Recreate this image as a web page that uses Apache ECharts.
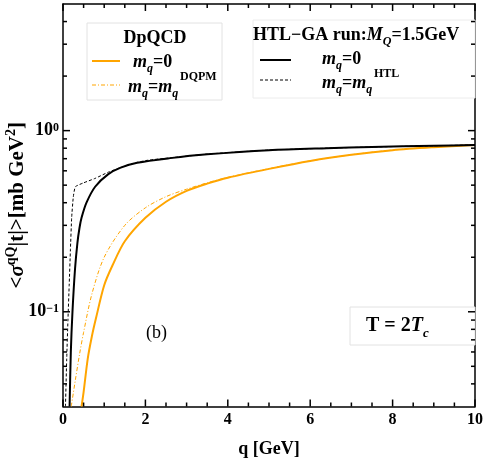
<!DOCTYPE html>
<html>
<head>
<meta charset="utf-8">
<script src="https://cdn.jsdelivr.net/npm/echarts@6/dist/echarts.min.js"></script>
<style>
  html, body { margin: 0; padding: 0; background: #fff; }
  #chart { width: 485px; height: 460px; }
</style>
</head>
<body>
<div id="chart"></div>
<script>
  // DpQCD, m_q = 0 (orange solid)
  const qDpSolid = [0.45, 0.5, 0.6, 0.7, 0.8, 1.0, 1.2, 1.5, 2.0, 2.5, 3.0, 3.5, 4.0, 5.0, 6.0, 7.0, 8.0, 9.0, 10];
  const vDpSolid = [0.03, 0.036, 0.055, 0.073, 0.092, 0.14, 0.18, 0.245, 0.33, 0.405, 0.465, 0.51, 0.55, 0.615, 0.68, 0.735, 0.78, 0.81, 0.834];
  // DpQCD, m_q = m_q^DQPM (orange dash-dot)
  const qDpMass = [0.2, 0.3, 0.4, 0.5, 0.7, 1.0, 1.5, 2.0, 2.5, 3.0, 3.5, 4.0, 5.0, 6.0, 7.0, 8.0, 9.0, 10];
  const vDpMass = [0.03, 0.042, 0.058, 0.077, 0.125, 0.2, 0.3, 0.375, 0.432, 0.475, 0.515, 0.552, 0.617, 0.681, 0.736, 0.781, 0.811, 0.834];
  // HTL-GA, m_q = 0 (black solid)
  const qHtlSolid = [0.16, 0.19, 0.23, 0.29, 0.35, 0.4, 0.45, 0.57, 0.78, 1.1, 1.4, 1.8, 2.6, 3.5, 5.0, 6.4, 7.5, 9.0, 10];
  const vHtlSolid = [0.03, 0.06, 0.1, 0.17, 0.24, 0.29, 0.33, 0.4, 0.49, 0.575, 0.625, 0.665, 0.705, 0.74, 0.78, 0.8, 0.812, 0.825, 0.834];
  // HTL-GA, m_q = m_q^HTL (black dashed)
  const qHtlMass = [0.06, 0.09, 0.12, 0.15, 0.18, 0.21, 0.25, 0.3, 0.5, 0.78, 1.1, 1.42, 1.8, 2.07, 2.6, 3.5, 5.0, 6.4, 7.5, 9.0, 10];
  const vHtlMass = [0.03, 0.055, 0.09, 0.14, 0.22, 0.33, 0.43, 0.49, 0.515, 0.545, 0.59, 0.628, 0.668, 0.687, 0.707, 0.742, 0.781, 0.8, 0.812, 0.825, 0.834];

  // tick positions (major ones carry labels)
  const xMajorTicks = [0, 2, 4, 6, 8, 10];
  const xMinorTicks = [0.5, 1, 1.5, 2.5, 3, 3.5, 4.5, 5, 5.5, 6.5, 7, 7.5, 8.5, 9, 9.5];
  const yMajorTicks = [0.1, 1];
  const yMinorTicks = [0.04, 0.05, 0.06, 0.07, 0.08, 0.09, 0.2, 0.3, 0.4, 0.5, 0.6, 0.7, 0.8, 0.9, 2, 3, 4];

  const F = 'Liberation Serif';
  const ORANGE = '#ffa500';
  const xMin = 0, xMax = 10, yMin = 0.03, yMax = 5;

  const pairs = (qs, vs) => qs.map((q, i) => [q, vs[i]]);
  const lg = v => Math.log10(v);

  const rich = {
    b: { fontFamily: F, fontWeight: 'bold', fontSize: 18, lineHeight: 26, color: '#000' },
    i: { fontFamily: F, fontWeight: 'bold', fontStyle: 'italic', fontSize: 18, lineHeight: 26, color: '#000' },
    sub: { fontFamily: F, fontWeight: 'bold', fontStyle: 'italic', fontSize: 12, lineHeight: 15, verticalAlign: 'bottom', color: '#000' },
    b20: { fontFamily: F, fontWeight: 'bold', fontSize: 20, lineHeight: 28, color: '#000' },
    i20: { fontFamily: F, fontWeight: 'bold', fontStyle: 'italic', fontSize: 20, lineHeight: 28, color: '#000' },
    sub20: { fontFamily: F, fontWeight: 'bold', fontStyle: 'italic', fontSize: 13, lineHeight: 16, verticalAlign: 'bottom', color: '#000' }
  };

  const chart = echarts.init(document.getElementById('chart'));

  const text = (x, y, t, extra) => ({
    type: 'text', x: x, y: y, z: 10,
    style: Object.assign({ text: t, rich: rich, textVerticalAlign: 'middle', verticalAlign: 'middle', fill: '#000', font: 'bold 18px ' + F }, extra || {})
  });
  const seg = (x1, x2, y, color, width, dash) => ({
    type: 'line', z: 10,
    shape: { x1: x1, y1: y, x2: x2, y2: y },
    style: { stroke: color, lineWidth: width, lineDash: dash || null }
  });
  const tickLine = (a, b) => ({
    type: 'line', z: 11, silent: true,
    shape: { x1: a[0], y1: a[1], x2: b[0], y2: b[1] },
    style: { stroke: '#000', lineWidth: 1.5 }
  });

  const hideLabel = { show: false };
  const noSplit = { show: false };
  const noTick = { show: false };
  const axisLineStyle = { show: true, onZero: false, lineStyle: { color: '#000', width: 1.5 } };

  const decorations = [
    // DpQCD legend box
    { type: 'rect', z: 9, shape: { x: 87, y: 23, width: 135, height: 77 }, style: { fill: '#fff', stroke: '#e2e2e2', lineWidth: 1 } },
    text(155, 38, 'DpQCD', { textAlign: 'center', align: 'center', font: 'bold 18px ' + F }),
    seg(92, 120, 61, ORANGE, 2),
    text(133, 62, '{i|m}{sub|q}{b|=0}'),
    seg(92, 120, 85, ORANGE, 1, [4, 2, 1, 2]),
    text(128, 87, '{i|m}{sub|q}{b|=}{i|m}{sub|q}'),
    text(180, 77, 'DQPM', { font: 'bold 12px ' + F }),
    // HTL-GA legend box
    { type: 'rect', z: 9, shape: { x: 253, y: 20, width: 222, height: 78 }, style: { fill: '#fff', stroke: '#ececec', lineWidth: 1 } },
    text(253, 35, '{b|HTL−GA run:}{i|M}{sub|Q}{b|=1.5GeV}'),
    seg(260, 291, 60, '#000', 2),
    text(322, 59, '{i|m}{sub|q}{b|=0}'),
    seg(260, 291, 80, '#000', 1, [3, 2]),
    text(322, 83, '{i|m}{sub|q}{b|=}{i|m}{sub|q}'),
    text(374, 74, 'HTL', { font: 'bold 12px ' + F }),
    // panel label
    text(146, 333, '(b)', { font: '18px ' + F }),
    // temperature box
    { type: 'rect', z: 9, shape: { x: 350, y: 307, width: 125, height: 38 }, style: { fill: '#fff', stroke: '#e2e2e2', lineWidth: 1 } },
    text(366, 326, '{b20|T = 2}{i20|T}{sub20|c}')
  ];

  chart.setOption({
    animation: false,
    grid: { left: 63, right: 10, top: 4, bottom: 53.5, outerBoundsMode: 'none' },
    xAxis: [{
      type: 'value', min: xMin, max: xMax, interval: 2,
      name: 'q [GeV]', nameLocation: 'middle', nameGap: 34,
      nameTextStyle: { fontFamily: F, fontWeight: 'bold', fontSize: 18, color: '#000' },
      axisLine: axisLineStyle,
      axisTick: noTick,
      axisLabel: { fontFamily: F, fontWeight: 'bold', fontSize: 16, color: '#000', margin: 5 },
      splitLine: noSplit
    }, {
      type: 'value', min: xMin, max: xMax, interval: 2, position: 'top',
      axisLine: axisLineStyle, axisTick: noTick, axisLabel: hideLabel, splitLine: noSplit
    }],
    yAxis: [{
      type: 'log', logBase: 10, min: yMin, max: yMax,
      name: '<{si|σ}{sp|qQ}|t|>[mb GeV{sp|2}]', nameLocation: 'middle', nameGap: 31, nameRotate: 90,
      nameMoveOverlap: false,
      nameTextStyle: {
        fontFamily: F, fontWeight: 'bold', fontSize: 21, color: '#000', lineHeight: 28,
        rich: {
          si: { fontFamily: F, fontWeight: 'bold', fontStyle: 'italic', fontSize: 21, lineHeight: 28, color: '#000' },
          sp: { fontFamily: F, fontWeight: 'bold', fontSize: 14, lineHeight: 14, verticalAlign: 'top', color: '#000' }
        }
      },
      axisLine: axisLineStyle,
      axisTick: noTick,
      axisLabel: {
        showMinLabel: false, showMaxLabel: false, margin: 4,
        fontFamily: F, fontWeight: 'bold', fontSize: 18, color: '#000',
        formatter: v => '10{sp|' + String(Math.round(lg(v))).replace('-', '−') + '}',
        rich: {
          sp: { fontFamily: F, fontWeight: 'bold', fontSize: 12, lineHeight: 12, verticalAlign: 'top', color: '#000' }
        }
      },
      splitLine: noSplit
    }, {
      type: 'log', logBase: 10, min: yMin, max: yMax, position: 'right',
      axisLine: axisLineStyle, axisTick: noTick, axisLabel: hideLabel, splitLine: noSplit
    }],
    series: [{
      name: 'DpQCD m_q=0', type: 'line', showSymbol: false, smooth: 0.3,
      data: pairs(qDpSolid, vDpSolid),
      lineStyle: { color: ORANGE, width: 2 }
    }, {
      name: 'DpQCD m_q=m_q^DQPM', type: 'line', showSymbol: false, smooth: 0.3,
      data: pairs(qDpMass, vDpMass),
      lineStyle: { color: ORANGE, width: 1, type: [4, 2, 1, 2] }
    }, {
      name: 'HTL-GA m_q=0', type: 'line', showSymbol: false, smooth: 0.3,
      data: pairs(qHtlSolid, vHtlSolid),
      lineStyle: { color: '#000', width: 2 }
    }, {
      name: 'HTL-GA m_q=m_q^HTL', type: 'line', showSymbol: false, smooth: 0.15,
      data: pairs(qHtlMass, vHtlMass),
      lineStyle: { color: '#000', width: 1, type: [3, 2] }
    }],
    graphic: decorations
  });

  // inward ticks on all four sides, placed through the chart's own scales
  const px = p => chart.convertToPixel({ xAxisIndex: 0, yAxisIndex: 0 }, p);
  const ticks = [];
  const addX = (vals, len) => vals.forEach(v => {
    const b = px([v, yMin]), t = px([v, yMax]);
    ticks.push(tickLine(b, [b[0], b[1] - len]), tickLine(t, [t[0], t[1] + len]));
  });
  const addY = (vals, len) => vals.forEach(v => {
    const l = px([xMin, v]), r = px([xMax, v]);
    ticks.push(tickLine(l, [l[0] + len, l[1]]), tickLine(r, [r[0] - len, r[1]]));
  });
  addX(xMajorTicks, 7);
  addX(xMinorTicks, 4);
  addY(yMajorTicks, 7);
  addY(yMinorTicks, 4);

  chart.setOption({ graphic: decorations.concat(ticks) });
</script>
</body>
</html>
